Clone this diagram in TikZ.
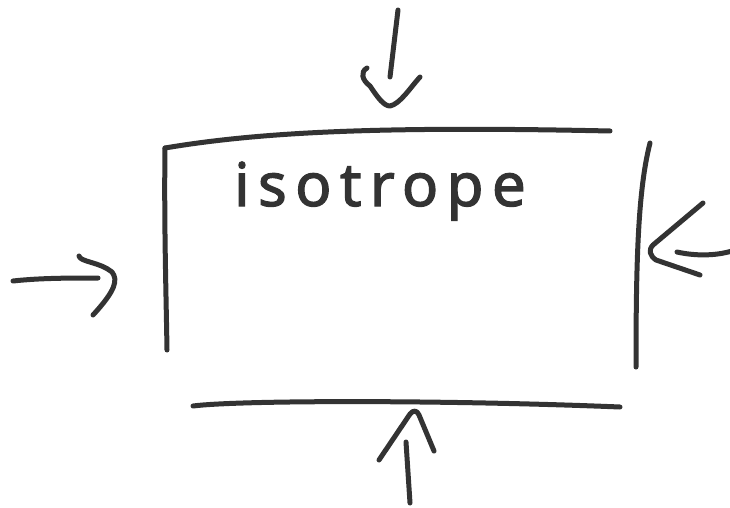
\documentclass[tikz,border=0pt]{standalone}
\usepackage{fontspec}
\setmainfont{Noto Sans}
\newfontfamily\penfont[LetterSpace=14,FakeBold=2]{Noto Sans}
\begin{document}
\begin{tikzpicture}[x=1pt,y=-1pt,
  pen/.style={line width=5pt,line cap=round,line join=round,draw=ink},
  label/.style={font=\penfont\fontsize{60}{60}\selectfont,text=ink,inner sep=0pt}]
\definecolor{ink}{HTML}{333333}
\useasboundingbox[fill=white] (0,0) rectangle (730,508);

% box sides
\draw[pen] (165,148) .. controls (260,132) and (380,126) .. (610,131);
\draw[pen] (165,148) .. controls (164,220) and (166,290) .. (167,350);
\draw[pen] (650,143) .. controls (638,190) and (636,260) .. (636,367);
\draw[pen] (193,406) .. controls (240,400) and (450,400) .. (620,407);

% label
\node[label,anchor=base] (iso) at (380,206) {isotrope};

% top arrow
\draw[pen] (398,10) -- (390,77);
\draw[pen] (367,68) .. controls (360,72) and (362,80) .. (370,86) .. controls (378,98) and (384,106) .. (390,106) .. controls (400,104) and (410,88) .. (420,77);

% left arrow
\draw[pen] (13,281) .. controls (40,278) and (70,278) .. (98,278);
\draw[pen] (79,256) .. controls (80,262) and (100,262) .. (112,272) .. controls (118,280) and (116,290) .. (93,315);

% right arrow
\draw[pen] (703,203) -- (653,245) .. controls (648,250) and (650,256) .. (656,260) -- (700,275);
\draw[pen] (677,252) .. controls (695,256) and (715,256) .. (732,251);

% bottom arrow
\draw[pen] (410,503) -- (406,442);
\draw[pen] (379,460) -- (410,414) .. controls (413,410) and (417,410) .. (419,415) -- (434,451);
\end{tikzpicture}
\end{document}
